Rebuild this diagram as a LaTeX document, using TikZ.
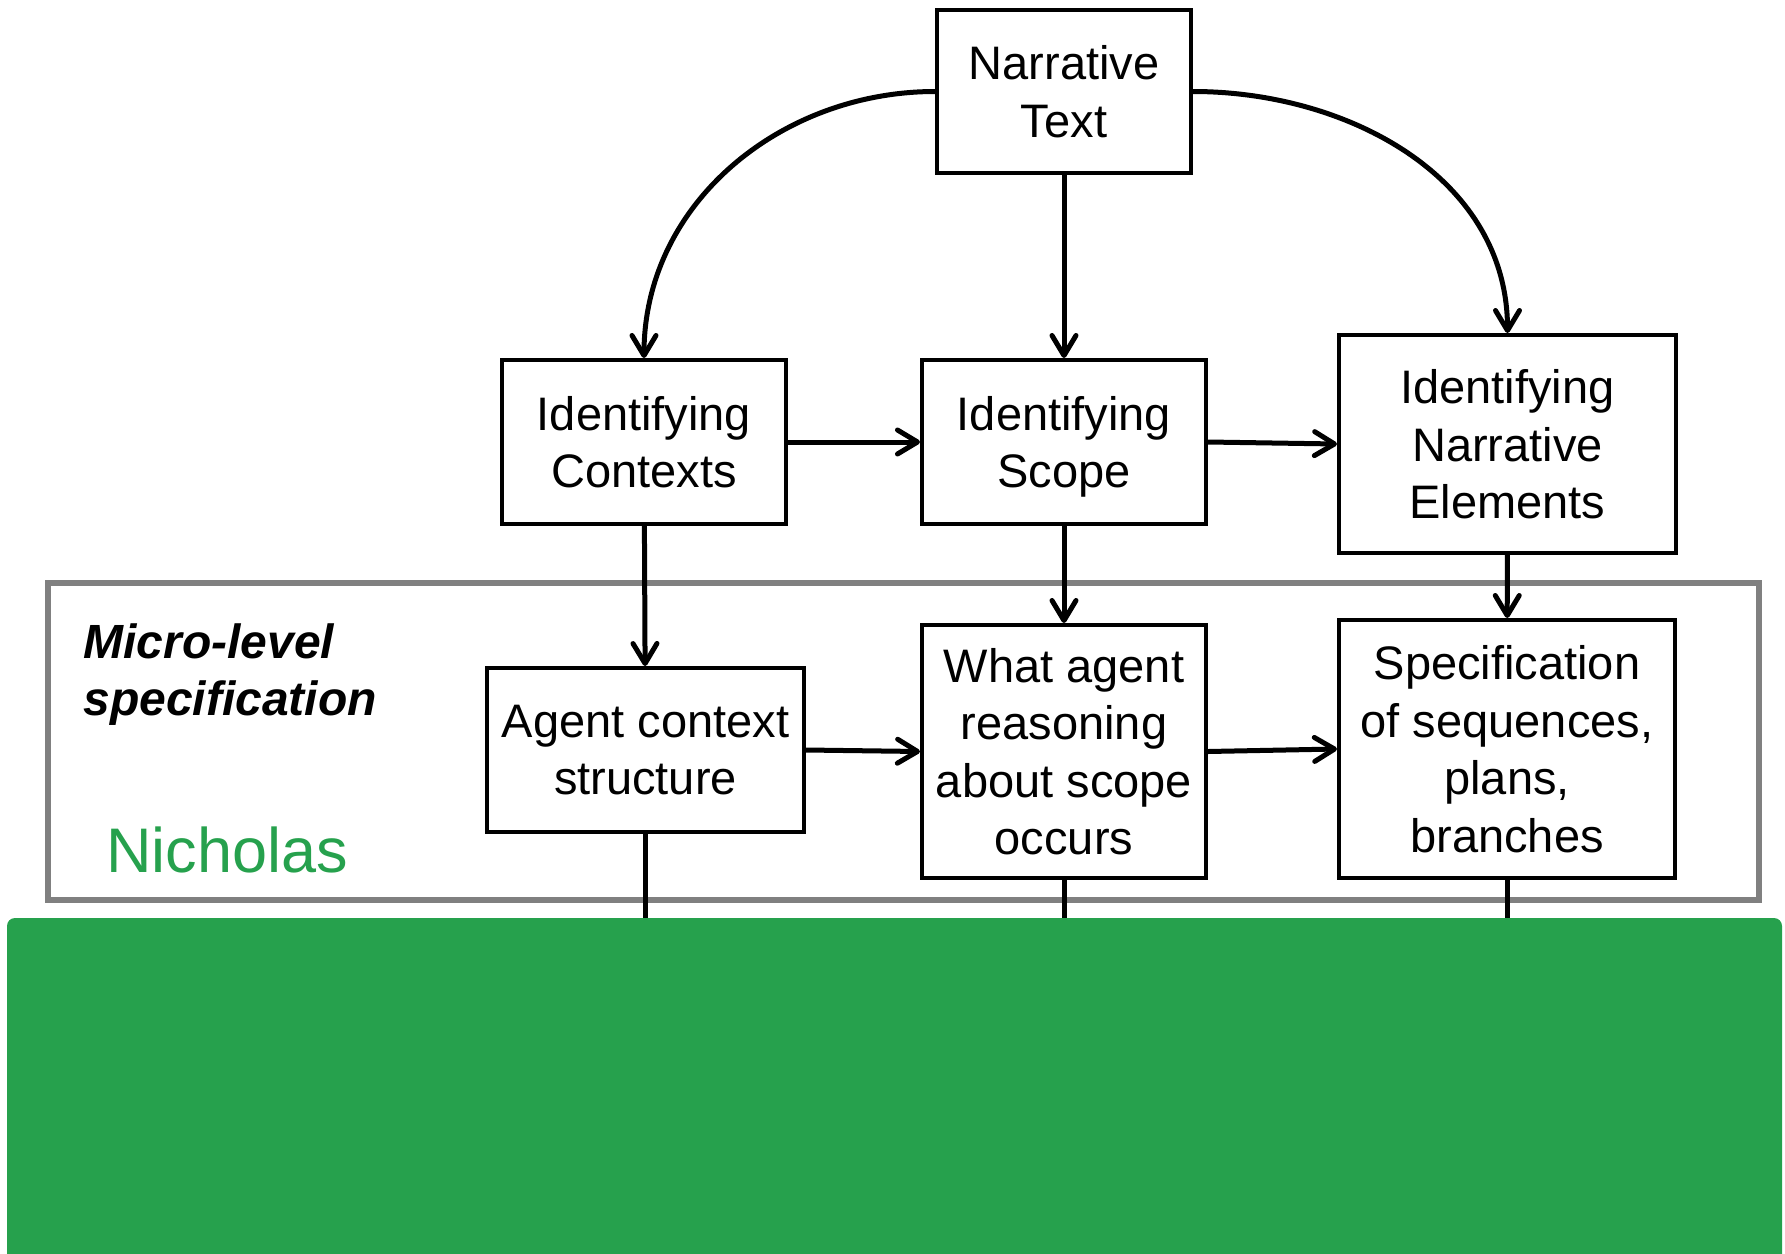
\documentclass[tikz,border=0pt]{standalone}
\usepackage{fontspec}
\setmainfont{Liberation Sans}
\usetikzlibrary{arrows.meta}
\definecolor{nicgreen}{RGB}{38,161,77}
\definecolor{framegray}{RGB}{128,128,128}

\begin{document}
\begin{tikzpicture}[x=0.5pt,y=-0.5pt,
        box/.style={draw,line width=2pt,align=center,inner sep=2pt,text depth=0pt,
            font=\fontsize{23.5pt}{28.75pt}\selectfont},
        arr/.style={line width=2.5pt,-{Straight Barb[length=10pt,width=12pt,round]}},
        link/.style={line width=2.5pt}]
            \useasboundingbox (0,0) rectangle (1785,1254);

            % micro-level frame
            \draw[framegray,line width=2.75pt] (48,583) rectangle (1759,900);
            \node (micro) at (83,675) [anchor=west,align=left,inner sep=0pt,
                font=\fontsize{24pt}{28.5pt}\selectfont\bfseries\itshape] {Micro-level\\specification};
            \node (nic) at (106,850) [anchor=west,inner sep=0pt,text=nicgreen,
                font=\fontsize{31.5pt}{36pt}\selectfont] {Nicholas};

            \node (nt) at (1064,91.5) [box,minimum width=127pt,minimum height=81.5pt] {Narrative\\Text};
            \node (ctx) at (644,442) [box,minimum width=142pt,minimum height=82pt] {Identifying\\Contexts};
            \node (scp) at (1064,442) [box,minimum width=142pt,minimum height=82pt] {Identifying\\Scope};
            \node (elm) at (1507.5,444) [box,minimum width=168.5pt,minimum height=109pt] {Identifying\\Narrative\\Elements};
            \node (acs) at (645.5,750) [box,minimum width=158.5pt,minimum height=82pt] {Agent context\\structure};
            \node (war) at (1064,751.5) [box,minimum width=142pt,minimum height=126.5pt] {What agent\\reasoning\\about scope\\occurs};
            \node (spc) at (1507,749) [box,minimum width=168pt,minimum height=129pt] {Specification\\of sequences,\\plans,\\branches};
            \coordinate (grntop) at (0,918);

            \draw[arr] (nt.west) to[out=180,in=90] (ctx.north);
            \draw[arr] (nt.east) to[out=0,in=90] (elm.north);
            \draw[arr] (nt) -- (scp);
            \draw[arr] (ctx) -- (scp);
            \draw[arr] (scp.east) -- (elm.west);
            \draw[arr] (ctx) -- (acs);
            \draw[arr] (scp) -- (war);
            \draw[arr] (elm) -- (spc);
            \draw[arr] (acs.east) -- (war.west);
            \draw[arr] (war.east) -- (spc.west);
            \draw[link] (acs.south) -- (acs.south |- grntop);
            \draw[link] (war.south) -- (war.south |- grntop);
            \draw[link] (spc.south) -- (spc.south |- grntop);

            \fill[nicgreen,rounded corners=4pt] (7,918) rectangle (1782,1270);
        \end{tikzpicture}
\end{document}
